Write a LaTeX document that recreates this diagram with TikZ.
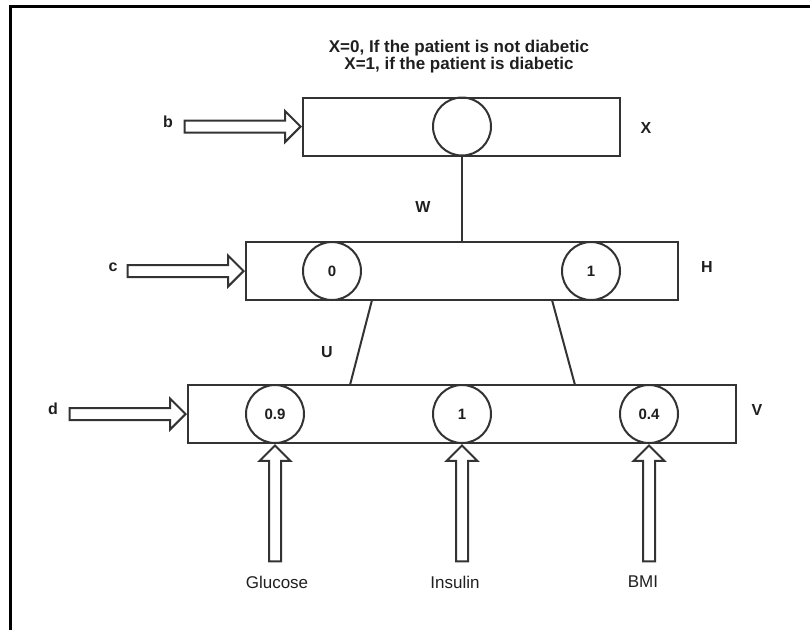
\documentclass[tikz,border=0pt]{standalone}
\usepackage{fontspec}
\setmainfont{Liberation Sans}
\usepackage{xcolor}
\usetikzlibrary{shapes.arrows, calc}

\definecolor{linegray}{gray}{0.2}
\definecolor{txtgray}{gray}{0.12}

\begin{document}
\begin{tikzpicture}[x=1pt, y=-1pt,
    layer/.style={draw=linegray, line width=2pt, minimum height=58pt, inner sep=0pt},
    unit/.style={circle, draw=linegray, line width=2pt, minimum size=58pt, inner sep=0pt,
                 text=txtgray, font=\bfseries\fontsize{15}{15}\selectfont},
    feed/.style={single arrow, draw=linegray, fill=white, line width=2pt, inner sep=0pt,
                 text width=10pt, text height=10pt, text depth=0pt,
                 minimum height=116pt, single arrow head extend=9.5pt},
    wire/.style={draw=linegray, line width=2pt},
    lbl/.style={text=txtgray, font=\bfseries\fontsize{16}{16}\selectfont},
    inp/.style={text=txtgray, font=\fontsize{17}{17}\selectfont}]

    \useasboundingbox (0,0) rectangle (810,630);

    % =================================================================
    % 1. KHUNG NGOÀI (CHỈ CẠNH TRÊN VÀ CẠNH TRÁI)
    % =================================================================
    \draw[line width=3pt] (10,630) -- (10,6.5) -- (810,6.5);

    % =================================================================
    % 2. GHI CHÚ PHÍA TRÊN
    % =================================================================
    \node[text=txtgray, align=center, font=\bfseries\fontsize{17}{15}\selectfont] (note) at (459,57)
        {X=0, If the patient is not diabetic\\X=1, if the patient is diabetic};

    % =================================================================
    % 3. CÁC LỚP X, H, V VÀ CÁC NÚT
    % =================================================================
    \node[layer, minimum width=317pt] (layX) at (461.5,126.5) {};
    \node[layer, minimum width=432pt] (layH) at (462,271) {};
    \node[layer, minimum width=548pt] (layV) at (462,414) {};

    \node[unit] (x1) at (462,126.5) {};
    \node[unit] (h0) at (332,271) {0};
    \node[unit] (h1) at (591,271) {1};
    \node[unit] (v1) at (275,414) {0.9};
    \node[unit] (v2) at (462,414) {1};
    \node[unit] (v3) at (649,414) {0.4};

    % Tên lớp bên phải
    \node[lbl] (nX) at (646,128) {X};
    \node[lbl] (nH) at (707,267) {H};
    \node[lbl] (nV) at (757,410) {V};

    % =================================================================
    % 4. CÁC ĐƯỜNG NỐI GIỮA CÁC LỚP (W, U)
    % =================================================================
    \draw[wire] (x1.south) -- (x1.south |- layH.north);
    \node[lbl] (nW) at (423,207) {W};

    \coordinate (hL) at (372,300);
    \coordinate (vL) at (350,385);
    \coordinate (hR) at (552,300);
    \coordinate (vR) at (575,385);
    \draw[wire] (hL) -- (vL);
    \draw[wire] (hR) -- (vR);
    \node[lbl] (nU) at (327,352) {U};

    % =================================================================
    % 5. MŨI TÊN RỖNG (BIAS b, c, d VÀ ĐẦU VÀO)
    % =================================================================
    \node[feed, anchor=tip] (fb) at (layX.west) {};
    \node[feed, anchor=tip] (fc) at (layH.west) {};
    \node[feed, anchor=tip] (fd) at (layV.west) {};
    \node[lbl] (nb) at (168,122) {b};
    \node[lbl] (nc) at (113,267) {c};
    \node[lbl] (nd) at (53,409) {d};

    \foreach \v/\name/\xx in {v1/Glucose/277, v2/Insulin/455, v3/BMI/643} {
        \node[feed, shape border rotate=90, anchor=tip] (f\v) at (\v.south) {};
        \node[inp] (in\v) at (\xx,582) {\name};
    }

\end{tikzpicture}
\end{document}
